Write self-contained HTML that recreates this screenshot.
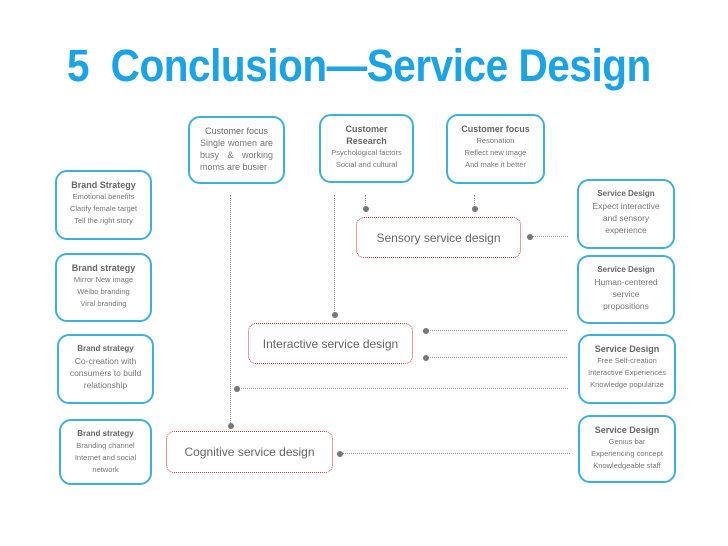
<!DOCTYPE html>
<html><head><style>
body{margin:0;width:728px;height:546px;background:#fff;position:relative;overflow:hidden;font-family:"Liberation Sans",sans-serif}
.t{position:absolute;left:67px;top:40px;font-size:45px;font-weight:bold;color:#1ba3e6;white-space:nowrap;transform:scaleX(0.9);transform-origin:left top;letter-spacing:-0.5px}
.b{position:absolute;border:2px solid #3fb0d8;border-radius:12px;box-sizing:border-box;text-align:center;color:#777;font-size:7.5px;line-height:12px;padding-top:7px}
.b b{color:#666;font-size:9px;display:block;line-height:12px}
.r{position:absolute;border:1.5px dotted #d33;border-radius:8px;box-sizing:border-box;color:#666;font-size:12px;display:flex;align-items:center;justify-content:center}
.v{position:absolute;border-left:1.5px dotted #999;width:0}
.h{position:absolute;border-top:1.5px dotted #999;height:0}
.d{position:absolute;width:6px;height:6px;border-radius:50%;background:#777;margin:-3px 0 0 -3px}
</style></head><body>
<div class="t">5&nbsp;&nbsp;Conclusion—Service Design</div>

<div class="b" style="left:188px;top:116px;width:97px;height:68px;font-size:9px;line-height:12px"><b style="font-weight:normal">Customer focus</b><div style="text-align:justify;text-align-last:justify;padding:0 10px">Single women are<br>busy &amp; working</div><div style="text-align:left;padding-left:10px">moms are busier</div></div>
<div class="b" style="left:319px;top:114px;width:95px;height:69px"><b>Customer<br>Research</b>Psychological factors<br>Social and cultural</div>
<div class="b" style="left:446px;top:114px;width:99px;height:70px"><b>Customer focus</b>Resonation<br>Reflect new image<br>And make it better</div>

<div class="b" style="left:55px;top:170px;width:97px;height:70px"><b>Brand Strategy</b>Emotional benefits<br>Clarify female target<br>Tell the right story</div>
<div class="b" style="left:55px;top:253px;width:97px;height:69px"><b>Brand strategy</b>Mirror New image<br>Weibo branding<br>Viral branding</div>
<div class="b" style="left:57px;top:334px;width:97px;height:70px;font-size:8.5px"><b style="font-size:8px">Brand strategy</b>Co-creation with<br>consumers to build<br>relationship</div>
<div class="b" style="left:59px;top:419px;width:93px;height:66px"><b style="font-size:8px">Brand strategy</b>Branding channel<br>Internet and social<br>network</div>

<div class="b" style="left:577px;top:179px;width:98px;height:70px;font-size:8.5px"><b style="font-size:8px">Service Design</b>Expect interactive<br>and sensory<br>experience</div>
<div class="b" style="left:577px;top:255px;width:98px;height:69px;font-size:8.5px"><b style="font-size:8px">Service Design</b>Human-centered<br>service<br>propositions</div>
<div class="b" style="left:578px;top:334px;width:98px;height:70px"><b>Service Design</b>Free Self-creation<br>Interactive Experiences<br>Knowledge popularize</div>
<div class="b" style="left:578px;top:415px;width:98px;height:68px"><b>Service Design</b>Genius bar<br>Experiencing concept<br>Knowledgeable staff</div>

<div class="r" style="left:356px;top:217px;width:165px;height:41px">Sensory service design</div>
<div class="r" style="left:248px;top:323px;width:165px;height:41px">Interactive service design</div>
<div class="r" style="left:166px;top:431px;width:167px;height:42px">Cognitive service design</div>

<div class="v" style="left:230px;top:195px;height:230px"></div><div class="d" style="left:231px;top:426px"></div>
<div class="v" style="left:334px;top:195px;height:120px"></div><div class="d" style="left:335px;top:315px"></div>
<div class="v" style="left:365px;top:195px;height:14px"></div><div class="d" style="left:366px;top:209px"></div>
<div class="v" style="left:474px;top:195px;height:14px"></div><div class="d" style="left:475px;top:209px"></div>
<div class="h" style="left:530px;top:236px;width:38px"></div><div class="d" style="left:530px;top:237px"></div>
<div class="h" style="left:426px;top:330px;width:141px"></div><div class="d" style="left:426px;top:331px"></div>
<div class="h" style="left:426px;top:357px;width:141px"></div><div class="d" style="left:426px;top:358px"></div>
<div class="h" style="left:237px;top:388px;width:331px"></div><div class="d" style="left:237px;top:389px"></div>
<div class="h" style="left:340px;top:453px;width:230px"></div><div class="d" style="left:340px;top:454px"></div>
</body></html>
